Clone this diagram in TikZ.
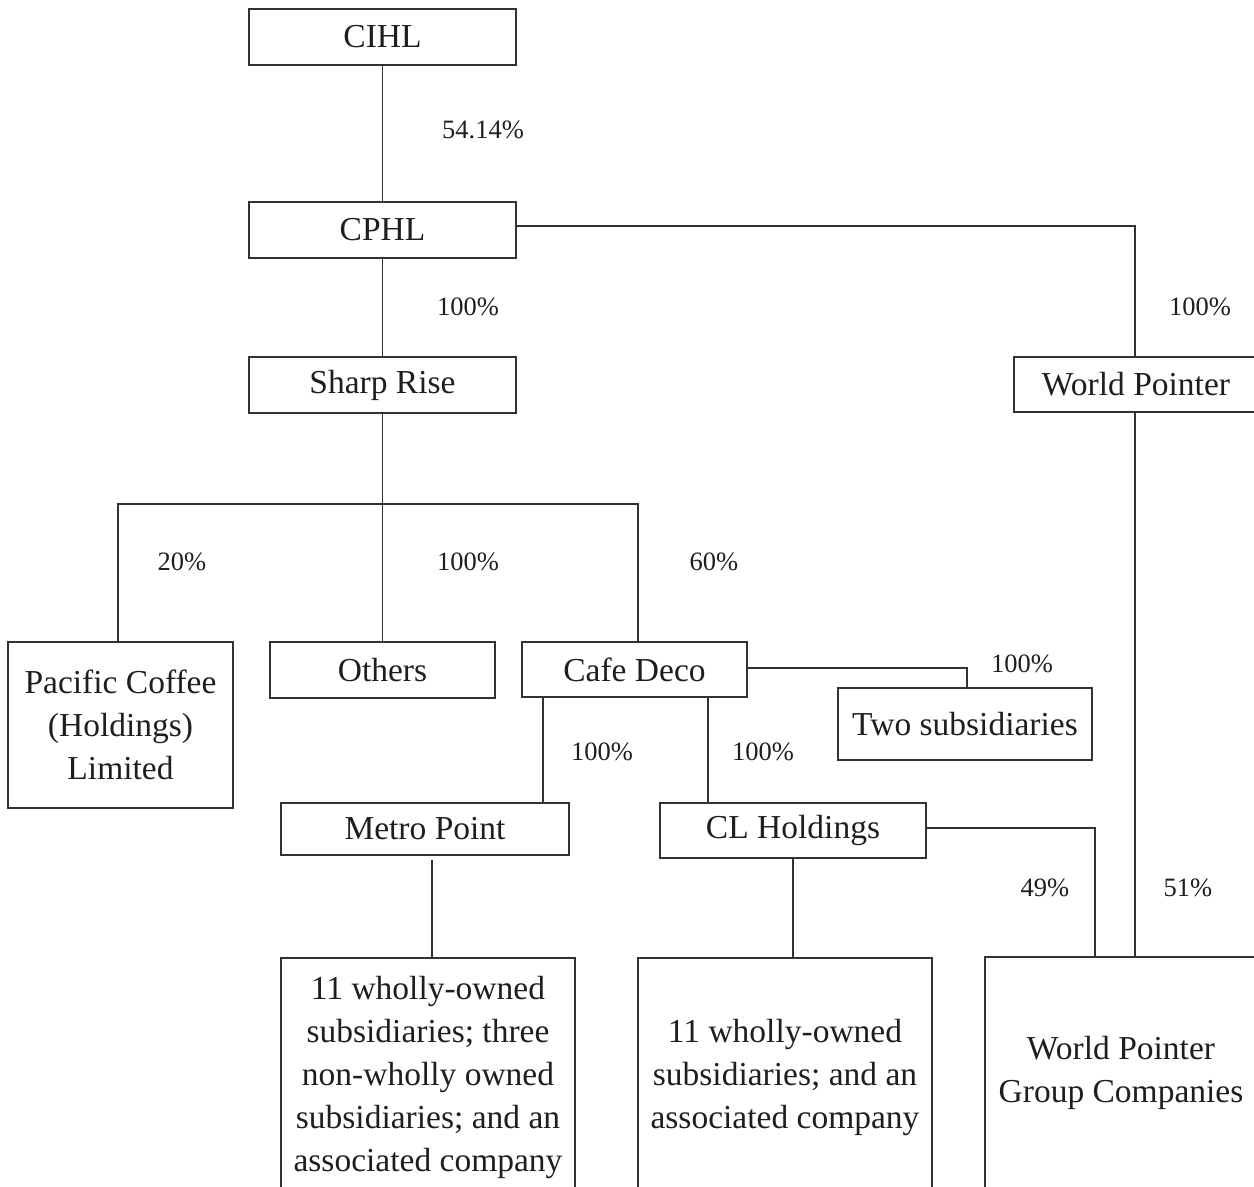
\documentclass[tikz,border=0pt]{standalone}
\usepackage{fontspec}
\setmainfont{Liberation Serif}
\usepackage{tikz}
\usetikzlibrary{positioning}
\definecolor{linegray}{RGB}{50,50,50}
\definecolor{textgray}{RGB}{30,30,30}

\begin{document}
\begin{tikzpicture}[x=0.5bp, y=-0.5bp,
    box/.style 2 args={draw=linegray, line width=0.65bp, inner sep=0pt, align=center,
        text=textgray, minimum width=#1*0.5bp, minimum height=#2*0.5bp,
        font=\fontsize{16.75bp}{21.5bp}\selectfont},
    share/.style={text=textgray, inner sep=0pt, font=\fontsize{13.25bp}{16bp}\selectfont},
    link/.style={draw=linegray, line width=0.65bp}]
    \useasboundingbox (0,0) rectangle (1254,1187);
    \clip (0,0) rectangle (1254,1187);

    % Top of the group
    \node[box={267}{56}] (cihl) at (382.5,37) {CIHL};
    \node[box={267}{56}] (cphl) at (382.5,230) {CPHL};
    \node[box={267}{56}] (sharp) at (382.5,385) {Sharp Rise};
    \node[box={244}{55}] (wp) at (1136,384.5) {World Pointer};

    % Held by Sharp Rise
    \node[box={225}{166}] (pcl) at (120.5,725) {Pacific Coffee\\(Holdings)\\Limited};
    \node[box={225}{56}] (others) at (382.5,670) {Others};
    \node[box={225}{55}] (cafe) at (634.5,669.5) {Cafe Deco};
    \node[box={254}{72}] (two) at (965,724) {Two subsidiaries};

    % Held by Cafe Deco
    \node[box={288}{52}] (metro) at (425,829) {Metro Point};
    \node[box={266}{55}] (clh) at (793,830.5) {CL Holdings};

    % Bottom row
    \node[box={294}{238}] (mpsub) at (428,1077) {11 wholly-owned\\subsidiaries; three\\non-wholly owned\\subsidiaries; and an\\associated company};
    \node[box={294}{238}] (clsub) at (785,1077) {11 wholly-owned\\subsidiaries; and an\\associated company};
    \node[box={272}{232}] (wpg) at (1121,1073) {World Pointer\\Group Companies};

    % Lines
    \draw[link] (cihl) -- (cphl);
    \draw[link] (cphl) -- (sharp);
    \draw[link] (cphl.east |- 0,226) -- (1135,226) -- (1135,0 |- wp.north);
    \coordinate (fork) at (382.5,504);
    \draw[link] (sharp) -- (fork);
    \draw[link] (118,0 |- pcl.north) -- (118,504) -- (638,504) -- (638,0 |- cafe.north);
    \draw[link] (fork) -- (others);
    \draw[link] (cafe.east |- 0,668) -- (967,668) -- (967,0 |- two.north);
    \draw[link] (543,0 |- cafe.south) -- (543,0 |- metro.north);
    \draw[link] (708,0 |- cafe.south) -- (708,0 |- clh.north);
    \draw[link] (clh.east |- 0,828) -- (1095,828) -- (1095,0 |- wpg.north);
    \draw[link] (1135,0 |- wp.south) -- (1135,0 |- wpg.north);
    \draw[link] (432,860) -- (432,0 |- mpsub.north);
    \draw[link] (793,0 |- clh.south) -- (793,0 |- clsub.north);

    % Shareholdings
    \node[share] (p1) at (483,130) {54.14\%};
    \node[share] (p2) at (468,307) {100\%};
    \node[share] (p3) at (1200,307) {100\%};
    \node[share] (p4) at (182,562) {20\%};
    \node[share] (p5) at (468,562) {100\%};
    \node[share] (p6) at (714,562) {60\%};
    \node[share] (p7) at (1022,664) {100\%};
    \node[share] (p8) at (602,752) {100\%};
    \node[share] (p9) at (763,752) {100\%};
    \node[share] (p10) at (1045,888) {49\%};
    \node[share] (p11) at (1188,888) {51\%};
\end{tikzpicture}
\end{document}
